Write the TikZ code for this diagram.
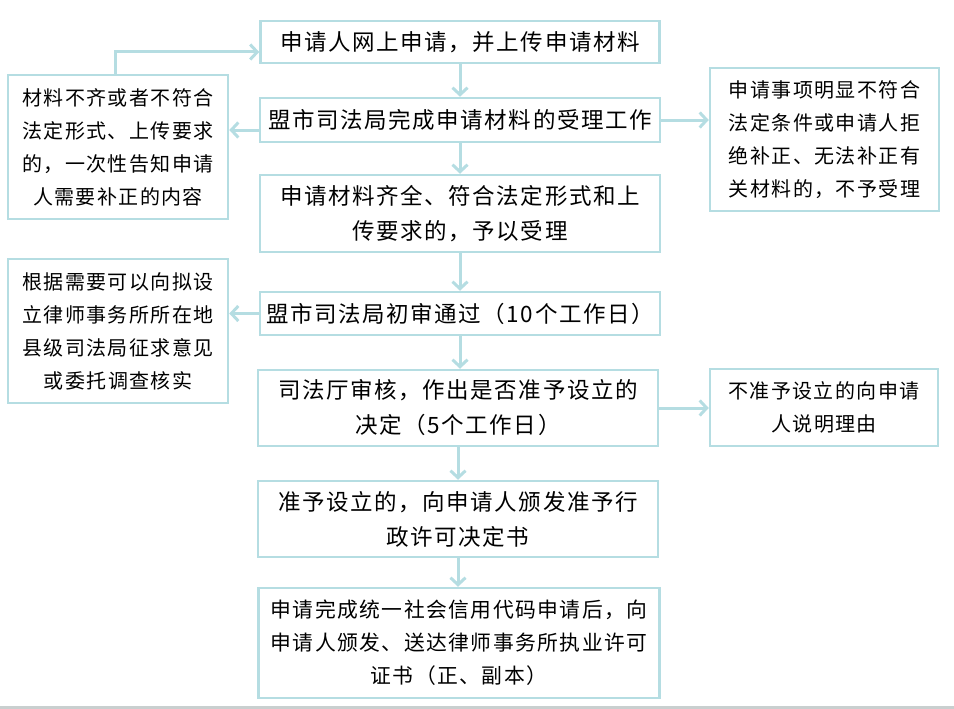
\documentclass[tikz,border=0pt]{standalone}
\usepackage{fontspec}
\usetikzlibrary{arrows.meta}
\newfontfamily\cjk[LetterSpace=7]{Noto Sans CJK SC}
\definecolor{tealc}{HTML}{B5DDE2}
\definecolor{grayline}{HTML}{C9CFCF}
\tikzset{
  box/.style={draw=tealc, line width=2.5pt, inner sep=0pt, align=center, text=black},
  mainf/.style={font=\cjk\fontsize{22.5}{35}\selectfont},
  sidef/.style={font=\cjk\fontsize{20}{33}\selectfont},
  lastf/.style={font=\cjk\fontsize{20.8}{33}\selectfont},
  arr/.style={draw=tealc, line width=3pt, -{Straight Barb[length=7pt,width=15pt,line width=3pt]}},
}
\begin{document}
\begin{tikzpicture}[x=1pt,y=-1pt]
\useasboundingbox (0,0) rectangle (954,709);
% main column
\node[box,mainf,minimum width=399pt,minimum height=42pt] (b1) at (460,42) {申请人网上申请，并上传申请材料};
\node[box,mainf,minimum width=400pt,minimum height=44pt] (b2) at (460,120) {盟市司法局完成申请材料的受理工作};
\node[box,mainf,minimum width=400pt,minimum height=77pt] (b3) at (460,213.5) {申请材料齐全、符合法定形式和上\\传要求的，予以受理};
\node[box,mainf,minimum width=400pt,minimum height=43pt] (b4) at (460,313.5) {盟市司法局初审通过（10个工作日）};
\node[box,mainf,minimum width=400pt,minimum height=76pt] (b5) at (458,408) {司法厅审核，作出是否准予设立的\\决定（5个工作日）};
\node[box,mainf,minimum width=400pt,minimum height=76pt] (b6) at (458,519) {准予设立的，向申请人颁发准予行\\政许可决定书};
\node[box,lastf,minimum width=401pt,minimum height=110pt] (b7) at (459,643) {申请完成统一社会信用代码申请后，向\\申请人颁发、送达律师事务所执业许可\\证书（正、副本）};
% side boxes
\node[box,sidef,minimum width=220pt,minimum height=144pt] (l1) at (118,147) {材料不齐或者不符合\\法定形式、上传要求\\的，一次性告知申请\\人需要补正的内容};
\node[box,sidef,minimum width=220pt,minimum height=144pt] (l2) at (118,331) {根据需要可以向拟设\\立律师事务所所在地\\县级司法局征求意见\\或委托调查核实};
\node[box,sidef,minimum width=229pt,minimum height=143pt] (r1) at (824.5,139.5) {申请事项明显不符合\\法定条件或申请人拒\\绝补正、无法补正有\\关材料的，不予受理};
\node[box,sidef,minimum width=228pt,minimum height=77pt] (r2) at (824,407.5) {不准予设立的向申请\\人说明理由};
% vertical arrows
\draw[arr] (b1.south) -- (b1.south |- b2.north);
\draw[arr] (b2.south) -- (b2.south |- b3.north);
\draw[arr] (b3.south) -- (b3.south |- b4.north);
\draw[arr] (b4.south) -- (b4.south |- b5.north);
\draw[arr] (b5.south) -- (b5.south |- b6.north);
\draw[arr] (b6.south) -- (b6.south |- b7.north);
% side arrows
\draw[arr] ([yshift=-10pt]b2.west) -- ([yshift=-10pt]b2.west -| l1.east);
\draw[arr] (b2.east) -- (b2.east -| r1.west);
\draw[arr] (b4.west) -- (b4.west -| l2.east);
\draw[arr] (b5.east) -- (b5.east -| r2.west);
\draw[arr] ([xshift=-3pt]l1.north) |- ([yshift=-10pt]b1.west);
% bottom rule
\fill[grayline] (0,705.5) rectangle (954,709);
\end{tikzpicture}
\end{document}
